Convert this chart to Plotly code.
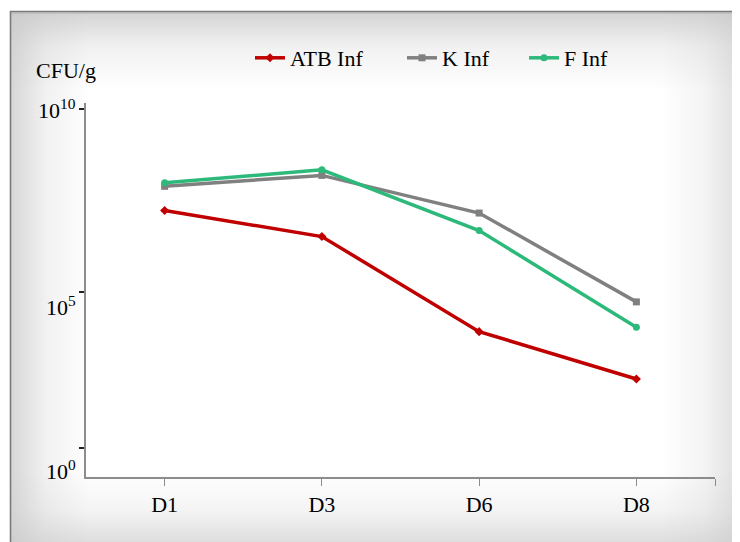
import base64
import numpy as np
import plotly.graph_objects as go

# ---- data ----
categories = ["D1", "D3", "D6", "D8"]
atb_inf = [1.7e7, 3.3e6, 8.3e3, 4.2e2]
k_inf = [7.8e7, 1.55e8, 1.45e7, 5.4e4]
f_inf = [9.8e7, 2.2e8, 4.8e6, 1.1e4]
series_names = ["ATB Inf", "K Inf", "F Inf"]
y_label_values = [1, 1e5, 1e10]
y_label_texts = ["10<sup>0</sup>", "10<sup>5</sup>", "10<sup>10</sup>"]
y_tick_mark_values = [5.6, 1e5, 1e10]
y_unit = "CFU/g"

# ---- style ----
W, H = 732, 534
ML, MR, MT, MB = 78, 25, 95, 65
PW, PH = W - ML - MR, H - MT - MB
FONT = "Times New Roman, Liberation Serif, DejaVu Serif, serif"
colors = ["#C00000", "#808080", "#2DB97A"]
symbols = ["diamond", "square", "circle"]
label_yshift = [5, -14, 0]
legend_item_px = [242, 394, 516]   # left edge of each legend entry (px)
legend_y_px = 50

svg = f'''<svg xmlns="http://www.w3.org/2000/svg" width="{W}" height="{H}" viewBox="0 0 {W} {H}">
<defs>
<linearGradient id="gl" x1="0" x2="1" y1="0" y2="0"><stop offset="0" stop-color="#c8c8c8" stop-opacity="0.75"/><stop offset="0.45" stop-color="#c8c8c8" stop-opacity="0.25"/><stop offset="1" stop-color="#c8c8c8" stop-opacity="0"/></linearGradient>
<linearGradient id="gr" x1="1" x2="0" y1="0" y2="0"><stop offset="0" stop-color="#c8c8c8" stop-opacity="0.6"/><stop offset="0.45" stop-color="#c8c8c8" stop-opacity="0.2"/><stop offset="1" stop-color="#c8c8c8" stop-opacity="0"/></linearGradient>
<linearGradient id="gt" x1="0" x2="0" y1="0" y2="1"><stop offset="0" stop-color="#c8c8c8" stop-opacity="0.8"/><stop offset="0.45" stop-color="#c8c8c8" stop-opacity="0.25"/><stop offset="1" stop-color="#c8c8c8" stop-opacity="0"/></linearGradient>
<linearGradient id="gb" x1="0" x2="0" y1="1" y2="0"><stop offset="0" stop-color="#c8c8c8" stop-opacity="0.6"/><stop offset="0.45" stop-color="#c8c8c8" stop-opacity="0.2"/><stop offset="1" stop-color="#c8c8c8" stop-opacity="0"/></linearGradient>
</defs>
<rect x="0" y="0" width="{W}" height="{H}" fill="#ffffff"/>
<rect x="2" y="3" width="{W}" height="{H}" fill="#ffffff"/>
<rect x="2" y="3" width="80" height="{H}" fill="url(#gl)"/>
<rect x="{W-80}" y="3" width="80" height="{H}" fill="url(#gr)"/>
<rect x="2" y="3" width="{W}" height="80" fill="url(#gt)"/>
<rect x="2" y="{H-70}" width="{W}" height="70" fill="url(#gb)"/>
<line x1="2" y1="3.5" x2="{W}" y2="3.5" stroke="#7a7a7a" stroke-width="1.6"/>
<line x1="2.5" y1="3" x2="2.5" y2="{H}" stroke="#7a7a7a" stroke-width="1.6"/>
<line x1="3" y1="5" x2="{W}" y2="5" stroke="#b0b0b0" stroke-width="1"/>
</svg>'''
bg_uri = "data:image/svg+xml;base64," + base64.b64encode(svg.encode()).decode()

fig = go.Figure()
legend_ids = ["legend", "legend2", "legend3"]
for name, vals, c, s, lg in zip(series_names, [atb_inf, k_inf, f_inf], colors, symbols, legend_ids):
    fig.add_trace(go.Scatter(
        x=categories, y=vals, name=name, mode="lines+markers",
        line=dict(color=c, width=3.5),
        marker=dict(color=c, symbol=s, size=7),
        legend=lg,
    ))

legend_common = dict(orientation="h", xanchor="left", yanchor="middle",
                     bgcolor="rgba(0,0,0,0)", font=dict(size=22, family=FONT),
                     borderwidth=0)
legends = {}
for lg, px in zip(legend_ids, legend_item_px):
    legends[lg] = dict(legend_common, x=(px - ML) / PW, y=1 + (MT - legend_y_px) / PH)

fig.update_layout(
    width=W, height=H,
    margin=dict(l=ML, r=MR, t=MT, b=MB),
    paper_bgcolor="#ffffff", plot_bgcolor="rgba(0,0,0,0)",
    font=dict(family=FONT, size=22, color="#000000"),
    showlegend=True,
    **legends,
    xaxis=dict(
        type="category", range=[-0.5, 3.5],
        showline=True, linecolor="#8c8c8c", linewidth=1.5,
        showgrid=False, zeroline=False,
        tickmode="array", tickvals=[0, 1, 2, 3, 3.5],
        ticktext=categories + [""],
        ticks="outside", ticklen=7, tickcolor="#8c8c8c", tickwidth=1.2,
        tickfont=dict(size=22, family=FONT), ticklabelstandoff=0,
    ),
    yaxis=dict(
        type="log", range=[-0.055, 10.17],
        showline=True, linecolor="#8c8c8c", linewidth=1.5,
        showgrid=False, zeroline=False,
        tickmode="array", tickvals=y_tick_mark_values,
        ticktext=["" for _ in y_tick_mark_values],
        ticks="outside", ticklen=5, tickcolor="#222222", tickwidth=1.5,
    ),
    images=[dict(
        source=bg_uri, xref="paper", yref="paper",
        x=-ML / PW, y=1 + MT / PH, sizex=W / PW, sizey=H / PH,
        xanchor="left", yanchor="top", sizing="stretch", layer="below",
    )],
)

for v, t, ys in zip(y_label_values, y_label_texts, label_yshift):
    fig.add_annotation(
        x=0, xref="paper", y=np.log10(v), yref="y",
        text=t, showarrow=False, xanchor="right", yanchor="middle",
        xshift=-8, yshift=ys, font=dict(size=22, family=FONT),
    )

fig.add_annotation(
    x=(58 - ML) / PW, xref="paper", y=1 + (MT - 62) / PH, yref="paper",
    text=y_unit, showarrow=False, xanchor="center", yanchor="middle",
    font=dict(size=22, family=FONT),
)

fig.write_html("out.html")
